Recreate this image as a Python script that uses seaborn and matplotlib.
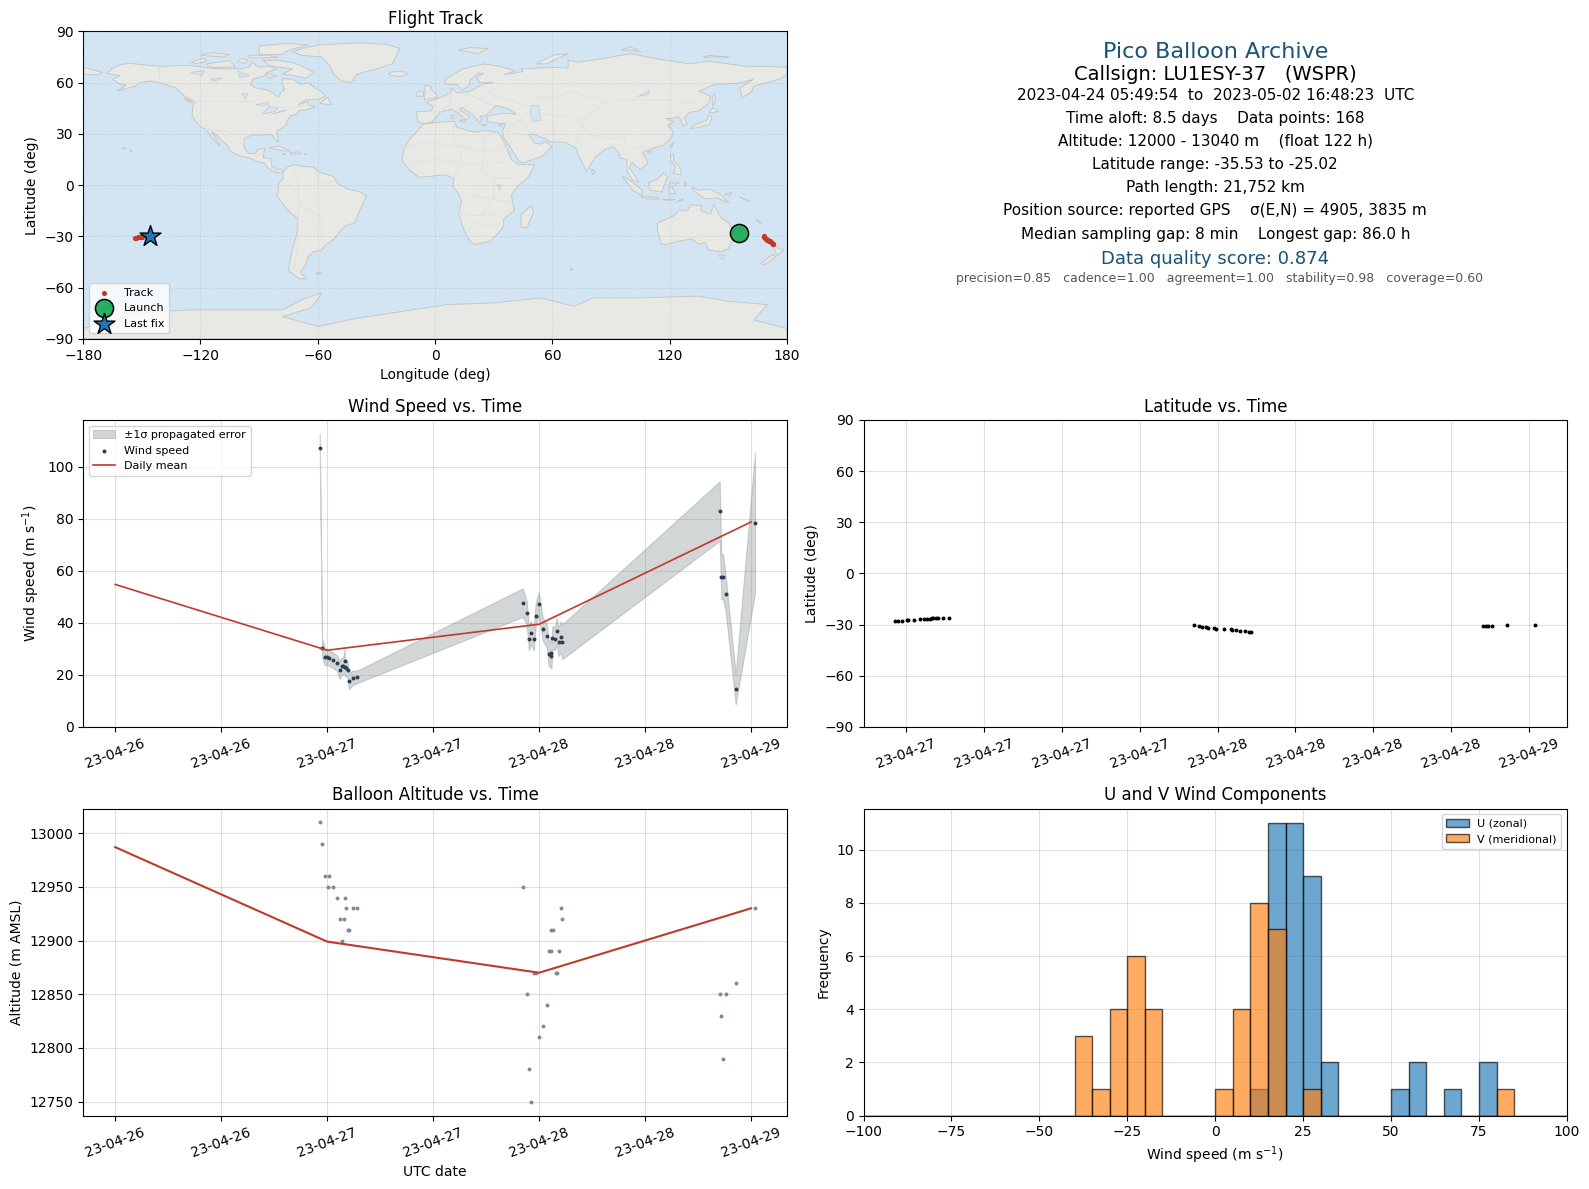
import numpy as np
import pandas as pd
import matplotlib
matplotlib.use("Agg")
import matplotlib.pyplot as plt
import matplotlib.dates as mdates
import seaborn as sns

# hours after 2023-04-27 00:00 UTC
WIND_HOURS = [-0.83, -0.57, -0.26, -0.04, 0.19, 0.64, 1.09, 1.43, 1.66, 1.81, 2.0, 2.0, 2.15, 2.34, 2.45, 2.9, 3.36,
              22.15, 22.6, 22.83, 23.06, 23.4, 23.6, 23.96, 24.4, 24.87, 25.1, 25.3, 25.4, 25.5, 25.8, 26.0, 26.2,
              26.45, 26.64, 44.45, 44.64, 44.83, 45.13, 46.26, 48.45]
WIND_SPEED = [107.4, 30.5, 26.9, 27.0, 26.6, 25.7, 24.6, 21.9, 23.4, 23.4, 25.4, 23.1, 22.7, 21.9, 17.7, 18.9, 19.2,
              47.8, 44.0, 34.0, 36.3, 34.0, 42.8, 47.4, 37.8, 35.1, 27.9, 28.6, 27.4, 34.3, 34.0, 37.0, 32.8,
              34.6, 32.8, 83.0, 57.8, 57.8, 51.2, 14.5, 78.5]
WIND_SIGMA = [5.3, 3.8, 3.3, 3.2, 3.0, 3.0, 3.0, 3.5, 3.2, 3.2, 4.6, 3.5, 3.2, 3.3, 3.2, 2.8, 2.4,
              5.5, 4.5, 4.5, 4.5, 4.5, 4.5, 4.5, 4.5, 4.5, 4.9, 4.9, 5.0, 4.5, 4.5, 5.0, 5.5,
              6.0, 6.7, 11.4, 8.7, 8.7, 7.0, 5.9, 27.0]

DAILY_DATES = ["2023-04-26", "2023-04-27", "2023-04-28", "2023-04-29"]
DAILY_WIND = [54.8, 29.5, 39.5, 78.8]
DAILY_ALT = [12987, 12899, 12870, 12930]

ALT_HOURS = [-0.83, -0.6, -0.26, 0.08, 0.19, 0.64, 1.09, 1.43, 1.66, 1.89, 2.0, 2.11, 2.34, 2.45, 2.9, 3.36,
             22.15, 22.6, 22.83, 23.06, 23.4, 23.6, 23.96, 24.4, 24.87, 25.1, 25.3, 25.4, 25.55, 25.9, 26.0,
             26.2, 26.45, 26.57, 44.45, 44.64, 44.83, 45.13, 46.26, 48.45]
ALT_M = [13010, 12990, 12960, 12950, 12960, 12950, 12940, 12920, 12900, 12920, 12940, 12930, 12910, 12910, 12930, 12930,
         12950, 12850, 12780, 12750, 12870, 12870, 12810, 12820, 12840, 12890, 12890, 12910, 12910, 12870, 12870,
         12890, 12930, 12920, 12850, 12830, 12790, 12850, 12860, 12930]

LAT_HOURS = [-0.83, -0.6, -0.26, 0.08, 0.19, 0.64, 1.09, 1.43, 1.66, 1.89, 2.0, 2.11, 2.34, 2.45, 2.9, 3.36,
             22.2, 22.6, 22.8, 23.1, 23.3, 23.7, 23.9, 24.5, 25.0, 25.1, 25.4, 25.7, 26.1, 26.4, 26.6,
             44.45, 44.64, 44.83, 45.13, 46.26, 48.45]
LAT_DEG = [-28.0, -27.9, -27.6, -27.5, -27.4, -27.1, -26.9, -26.9, -26.8, -26.4, -26.3, -26.2, -26.2, -26.2, -26.1, -26.1,
           -30.0, -30.8, -31.2, -31.4, -31.8, -32.0, -32.4, -32.5, -32.7, -32.9, -33.3, -33.5, -33.9, -34.3, -34.5,
           -31.0, -30.8, -30.6, -30.5, -30.1, -30.1]

TRACK_LON = [168.0, 168.4, 168.9, 169.3, 169.8, 170.3, 170.8, 171.3, 171.8, 172.2, 172.6, 173.0,
             -153.6, -152.8, -152.0, -151.2, -150.5, -150.0]
TRACK_LAT = [-30.0, -30.6, -31.2, -31.6, -32.0, -32.4, -32.7, -33.0, -33.4, -33.8, -34.2, -34.6,
             -31.0, -30.8, -30.6, -30.5, -30.1, -30.1]
LAUNCH_LON = [155.6]
LAUNCH_LAT = [-27.8]
LAST_FIX_LON = [-146.0]
LAST_FIX_LAT = [-29.6]

BIN_EDGES = list(range(-100, 105, 5))
U_BIN_CENTRES = [12.5, 17.5, 22.5, 27.5, 32.5, 52.5, 57.5, 67.5, 77.5]
U_COUNTS = [1, 11, 11, 9, 2, 1, 2, 1, 2]
V_BIN_CENTRES = [-37.5, -32.5, -27.5, -22.5, -17.5, 2.5, 7.5, 12.5, 17.5, 27.5, 82.5]
V_COUNTS = [3, 1, 4, 6, 4, 1, 4, 8, 7, 1, 1]

HEADER_TEXT = [
    "Pico Balloon Archive",
    "Callsign: LU1ESY-37   (WSPR)",
    "2023-04-24 05:49:54  to  2023-05-02 16:48:23  UTC",
    "Time aloft: 8.5 days    Data points: 168",
    "Altitude: 12000 - 13040 m    (float 122 h)",
    "Latitude range: -35.53 to -25.02",
    "Path length: 21,752 km",
    "Position source: reported GPS    σ(E,N) = 4905, 3835 m",
    "Median sampling gap: 8 min    Longest gap: 86.0 h",
    "Data quality score: 0.874",
    "precision=0.85   cadence=1.00   agreement=1.00   stability=0.98   coverage=0.60",
]

# rough coastlines (lon, lat)
LAND = [
    [(-168, 65.5), (-165, 68.5), (-161, 70.5), (-156, 71.3), (-148, 70.3), (-140, 69.6), (-130, 70), (-125, 70),
     (-115, 68.5), (-108, 68), (-100, 68), (-95, 69), (-94, 72), (-90, 69), (-85, 69.5), (-81, 68), (-86, 66),
     (-87, 64), (-93, 62), (-94.5, 59), (-92, 57), (-85, 55.5), (-82, 53), (-80, 51.5), (-79, 54), (-77, 56),
     (-78, 59), (-78, 62.5), (-73, 62), (-69, 59), (-65, 60), (-62, 57.5), (-58, 54.5), (-56, 52), (-60, 50),
     (-66, 50), (-70, 47), (-65, 49), (-65, 47), (-61, 46), (-66, 44), (-70, 43.5), (-71, 41.5), (-74, 40.5),
     (-76, 37), (-76, 35), (-81, 31.5), (-80.5, 28), (-80.3, 25.3), (-81.7, 26), (-83, 29), (-85, 29.7),
     (-90, 29.2), (-94, 29.5), (-97.5, 27), (-97.7, 22), (-95.5, 18.6), (-92, 18.5), (-90.5, 21), (-87, 21.4),
     (-88, 16), (-84, 15.5), (-83.5, 11), (-81, 9), (-79, 9.5), (-77.3, 8.5), (-78.5, 7.5), (-80.5, 7.3),
     (-83, 8.3), (-85.5, 10), (-87.5, 13), (-91.5, 14), (-95, 16), (-100, 17), (-105, 20), (-106, 23), (-109, 26),
     (-112.5, 30), (-114.5, 31.5), (-112, 27), (-110, 23), (-112, 25), (-115, 29), (-117, 32.5), (-120.5, 34.5),
     (-122.5, 37.5), (-124.3, 40), (-124, 46), (-123, 49), (-127, 51), (-130, 54), (-133, 57), (-137, 58.5),
     (-141, 60), (-146, 61), (-151, 60), (-153, 58), (-158, 56.5), (-163, 55), (-158, 58.5), (-162, 59.5),
     (-165, 62), (-161, 64)],
    [(-73, 78), (-68, 80), (-60, 82), (-40, 83.3), (-25, 82.5), (-18, 80), (-20, 75), (-22, 71), (-30, 68), (-40, 65),
     (-43, 60), (-48, 61), (-52, 65), (-54, 70), (-58, 75), (-68, 76)],
    [(-80, 73), (-72, 71.5), (-65, 68), (-62, 66), (-66, 62.5), (-72, 64), (-78, 65), (-73, 68), (-85, 70), (-88, 73)],
    [(-90, 76.5), (-78, 76.5), (-75, 79), (-65, 82), (-75, 83), (-90, 81.5)],
    [(-117, 71), (-105, 73), (-102, 69), (-115, 69)],
    [(-125, 72), (-118, 74.5), (-117, 72.5), (-122, 71)],
    [(-95, 74.5), (-80, 74.5), (-85, 76), (-95, 76)],
    [(-120, 76), (-108, 75), (-105, 76.5), (-115, 77.5)],
    [(-100, 74), (-96, 73.5), (-97, 71.5), (-101, 72)],
    [(-87, 65.5), (-81, 64), (-85, 62.5)],
    [(-128.5, 50.7), (-124, 49), (-125.5, 48.5)],
    [(-59, 47.8), (-53, 47), (-55, 51.5)],
    [(-85, 22), (-80, 23), (-74.5, 20), (-78, 20)],
    [(-74, 19), (-69, 19.5), (-68.5, 18.3), (-74, 18)],
    [(-78.3, 18.4), (-76.3, 18.1), (-77, 17.8)],
    [(-67, 18.5), (-65.7, 18.3), (-66.5, 18)],
    [(-77.3, 8.5), (-75, 11), (-72, 12), (-68, 11), (-62, 10.5), (-60, 8), (-52, 5), (-50, 1), (-44, -2.5), (-38, -4),
     (-35, -6.5), (-37, -11), (-39, -16), (-41, -22), (-46, -24), (-48.5, -27), (-52, -32), (-56, -35), (-58, -38),
     (-62, -39), (-65, -42), (-66, -46), (-69, -51), (-65.5, -55), (-70, -54.5), (-75, -50), (-74, -43), (-73, -37),
     (-71, -30), (-70, -20), (-76, -14), (-81, -6), (-80, -2), (-80, 1), (-77.5, 4), (-78, 7)],
    [(-6, 35.8), (3, 37), (10, 37.3), (11, 34), (15, 32.5), (20, 31), (25, 32), (32, 31), (34, 28), (37, 21), (39, 15),
     (43, 12), (51, 12), (48, 5), (42, -1), (39, -6), (40.5, -15), (35, -20), (35, -24), (32.5, -28), (28, -33),
     (20, -34.8), (18, -33), (15, -27), (12, -17), (13.5, -10), (12, -5), (9, -1), (9.5, 4), (5, 6), (-4, 5),
     (-8, 4.5), (-13, 8.5), (-17, 14.5), (-16, 21), (-13, 27), (-9.5, 31)],
    [(49.3, -12), (50.3, -16), (47, -25), (44, -24.5), (44, -17)],
    [(-9, 37), (-9.5, 43), (-2, 43.5), (-1, 46), (-4.5, 48.5), (2, 51), (8, 54), (8.5, 57), (11, 54), (18, 55), (21, 57),
     (24, 59), (30, 60), (23, 60), (21, 63), (25, 65.5), (22, 65.5), (17.5, 61), (18, 59), (14, 55.5), (11, 59), (5, 59),
     (5.5, 62), (14, 68), (25, 71), (33, 69.5), (41, 67), (35, 64.5), (45, 66.5), (44, 68), (60, 69), (68, 68.5),
     (68, 73), (73, 72), (80, 73), (100, 77), (113, 74), (130, 71), (140, 72.5), (160, 69.5), (170, 69.5), (180, 69),
     (180, 65), (177, 62.5), (170, 60), (163, 58), (162, 55), (157, 51), (156, 57), (163, 62), (155, 59.5), (143, 59),
     (135, 55), (141, 52), (140, 48), (135, 43.5), (130, 42.5), (127.5, 39.5), (129, 36), (126.5, 34.5), (126, 37.5),
     (124.5, 40), (121, 39), (118, 39), (122, 37), (119, 35), (122, 31), (121, 28), (117, 23.5), (110, 21), (106, 19),
     (109, 13), (105, 9), (103, 11), (100.5, 13.5), (99.5, 10), (103, 4), (104, 1.4), (101, 3), (98.3, 8), (98, 15),
     (94.5, 16), (94, 19), (91, 22.5), (87, 21), (82, 16.5), (80, 13), (77.5, 8), (73, 18), (72.5, 21), (67, 25),
     (58, 25.5), (56.5, 27), (50, 30), (48, 29.5), (51, 24.5), (54, 24), (56.5, 25.5), (59.8, 22.5), (55, 17), (45, 13),
     (43, 14), (39, 21), (35, 28), (34.5, 31.5), (36, 36), (30, 36.5), (27, 37), (26.5, 40), (29, 41), (35, 42),
     (41.5, 41.5), (37, 45), (31, 46.5), (28, 43), (26, 40.7), (23, 40.5), (24, 38), (22.5, 36.5), (19.5, 41),
     (13.5, 45.5), (12.5, 44), (18, 40), (16, 38), (12, 42), (8.5, 44.3), (3, 43), (0, 39), (-2, 36.8), (-5.5, 36)],
    [(-180, 69), (-170, 66), (-173, 64.5), (-180, 65)],
    [(-5.5, 50), (1.5, 51.5), (0, 54), (-2, 56), (-2, 58), (-5.5, 58.5), (-5, 54)],
    [(-10, 52), (-6, 52), (-6, 55), (-9, 54.5)],
    [(-24, 65), (-22, 64), (-18, 63.5), (-14, 65), (-16, 66.5), (-22, 66.4)],
    [(12, 79), (22, 77), (27, 80), (18, 80.5)],
    [(52, 71), (57, 71), (68, 77), (60, 76)],
    [(95, 79), (100, 79), (105, 78), (100, 81)],
    [(137, 75), (145, 75), (150, 75), (140, 76)],
    [(8.2, 41), (9.7, 41), (9.5, 39), (8.4, 39)],
    [(12.5, 38), (15.5, 38.2), (15, 36.7)],
    [(23.5, 35.5), (26.3, 35.2), (24.5, 34.9)],
    [(32.3, 35), (34.5, 35.6), (33.5, 34.6)],
    [(142, 46), (143.5, 50), (143, 54), (142, 52)],
    [(130.5, 33), (135, 33.8), (140.5, 35.5), (141.5, 40), (140, 41), (139, 38), (133, 35.5)],
    [(140, 42), (145, 43.3), (142, 45.3)],
    [(80, 9.5), (82, 7.5), (80.5, 6)],
    [(120.5, 23), (122, 25), (120.8, 22)],
    [(108.7, 19.3), (110.5, 20), (110, 18.3)],
    [(120.5, 18), (122, 18), (122, 14), (124, 12.5), (126, 8), (125.5, 6), (122, 7), (123, 11), (120.5, 14)],
    [(109, 1.5), (113, 3), (117, 7), (119, 5), (117.5, 1), (116, -4), (110, -3)],
    [(95.5, 5.5), (100, 2.5), (106, -3), (105.5, -6), (101, -3)],
    [(105.5, -6.5), (114.5, -7.5), (114, -8.7), (106, -7.5)],
    [(116, -8.4), (123, -8.3), (119, -9)],
    [(123.5, -10), (127, -8.4), (124.5, -9.4)],
    [(127.5, 2), (128.5, 1), (128, -1)],
    [(119.5, -5), (120, 1), (125, 1.5), (121, -1), (123, -5)],
    [(131, -1), (135, -3), (141, -2.5), (146, -5.5), (150.5, -10.5), (144, -7.5), (138, -8), (133, -4)],
    [(148, -5.5), (152, -4), (151, -6)],
    [(156, -7), (161, -9.5), (159, -9)],
    [(114, -22), (113.5, -26), (115.5, -34), (118, -35), (124, -33), (131, -31.5), (135, -34.5), (138, -33.5), (140, -38),
     (146, -39), (150, -37.5), (153.5, -28), (150, -22), (146, -19), (142.5, -11), (141, -17), (136, -15), (136.5, -12),
     (131, -11.5), (129, -15), (125, -14.5), (122, -18)],
    [(145, -41), (148, -41), (147, -43.5)],
    [(172.8, -34.5), (175.5, -37), (178.5, -37.7), (175, -41.5), (174, -39)],
    [(172.5, -40.7), (174, -41.8), (171, -45), (168, -46.7), (166.5, -46), (171, -42)],
    [(164, -20), (167, -22), (166, -22.3)],
    [(-156, 20.5), (-155, 19.8), (-155.6, 19)],
    [(-160, 22), (-158, 21.3), (-159, 21)],
    [(69, -49), (70.5, -49.3), (69.5, -50)],
    [(-61, -51.5), (-58, -51.5), (-59.5, -52.3)],
    [(-180, -84), (-165, -80), (-155, -76), (-140, -74), (-124, -73), (-100, -73), (-78, -73), (-68, -67), (-58, -63),
     (-60, -67), (-64, -72), (-78, -77), (-60, -82.7), (-40, -78), (-23, -75), (6, -70), (30, -69), (54, -66),
     (71, -71), (81, -66), (105, -66), (134, -65), (150, -68), (170, -70), (163, -79), (180, -84), (180, -90), (-180, -90)],
]
LAKES = [
    [(-92, 47), (-85, 48.5), (-85, 46.7)],
    [(-88, 42), (-85, 46), (-80, 45.5), (-82, 43), (-86, 42)],
    [(-83, 41.7), (-76, 44), (-79, 43)],
    [(49, 46.5), (53, 46.5), (54, 38), (50, 37), (49, 41)],
    [(-101, 67), (-95, 64), (-100, 63)],
    [(-125, 66), (-118, 67), (-119, 64)],
    [(-115, 62), (-109, 62.8), (-113, 60.8)],
    [(-99, 53.5), (-96, 53.5), (-97, 50.5)],
    [(104, 52), (110, 55.5), (109, 53)],
    [(31.7, 0), (34, 0), (33, -3)],
]
BORDERS = [
    [(-123, 49), (-95, 49), (-83, 46), (-75, 45), (-67, 47)],
    [(-141, 60), (-141, 69.6)],
    [(-117, 32.5), (-106, 31.5), (-97.5, 26)],
    [(-92, 14.5), (-91, 17.5), (-88, 18)],
    [(-72, 12), (-70, 1), (-70, -10), (-58, -20), (-58, -33)],
    [(-60, 8), (-60, 1), (-52, 2)],
    [(-70, -10), (-70, -20), (-70, -33), (-72, -50)],
    [(-80, -3), (-75, 0), (-70, -4)],
    [(-17, 21), (-5, 25), (12, 23), (25, 20), (37, 22)],
    [(25, 32), (25, 20), (24, 9), (30, 4), (42, 4)],
    [(10, 37), (9, 30), (12, 23), (14, 13), (9, 4)],
    [(-13, 12), (0, 15), (14, 13), (24, 12), (36, 14)],
    [(12, -5), (30, -8), (40, -11)],
    [(12, -17), (24, -18), (35, -16)],
    [(16, -28), (20, -22), (32, -24)],
    [(30, 4), (30, -8), (24, -18)],
    [(-2, 43), (3, 43), (8, 48), (8, 54)],
    [(14, 54), (24, 50), (30, 46), (28, 42)],
    [(24, 59), (30, 52), (40, 49), (48, 46)],
    [(50, 51), (60, 51), (70, 55), (87, 49), (98, 50), (117, 50), (135, 48)],
    [(53, 42), (60, 41), (70, 40), (75, 38), (80, 42), (87, 49)],
    [(44, 39), (47, 34), (49, 30)],
    [(61, 36), (61, 30), (62, 25)],
    [(75, 36), (78, 30), (88, 27), (97, 28), (98, 22), (106, 22)],
    [(72, 25), (75, 32), (75, 36)],
    [(36, 32), (42, 37), (44, 39)],
    [(36, 32), (47, 29)],
]


def to_time(hours):
    return pd.Timestamp("2023-04-27") + pd.to_timedelta(hours, unit="h")


def add_axes_px(fig, left, right, top, bottom):
    w, h = fig.get_size_inches() * fig.dpi
    return fig.add_axes([left / w, 1 - bottom / h, (right - left) / w, (bottom - top) / h])


def style_grid(ax):
    ax.grid(True, color="#b0b0b0", alpha=0.4, linewidth=0.8)
    ax.set_axisbelow(True)


def date_axis(ax, hours):
    ax.xaxis.set_major_locator(mdates.HourLocator(byhour=range(0, 24, hours)))
    ax.xaxis.set_major_formatter(mdates.DateFormatter("%y-%m-%d"))
    ax.tick_params(axis="x", labelrotation=20)
    ax.margins(x=0.05)


def plot_map(ax):
    ax.set_facecolor("#d3e5f2")
    for poly in LAND:
        xs, ys = zip(*poly)
        ax.fill(xs, ys, facecolor="#e8e8e4", edgecolor="#c3c8ca", linewidth=0.7, zorder=1)
    for poly in LAKES:
        xs, ys = zip(*poly)
        ax.fill(xs, ys, facecolor="#d3e5f2", edgecolor="#c3c8ca", linewidth=0.5, zorder=1.1)
    for line in BORDERS:
        xs, ys = zip(*line)
        ax.plot(xs, ys, color="#dfe0dc", linewidth=0.6, zorder=1.2)
    ax.grid(True, color="#808080", alpha=0.3, linewidth=0.6, linestyle=":", zorder=1.5)
    ax.set_axisbelow(False)
    sns.scatterplot(x=TRACK_LON, y=TRACK_LAT, ax=ax, color="#c0392b", s=14, linewidth=0, label="Track", zorder=3)
    sns.scatterplot(x=LAUNCH_LON, y=LAUNCH_LAT, ax=ax, color="#27ae60", s=170, marker="o",
                    edgecolor="black", linewidth=1.1, label="Launch", zorder=4)
    sns.scatterplot(x=LAST_FIX_LON, y=LAST_FIX_LAT, ax=ax, color="#1f77b4", s=250, marker="*",
                    edgecolor="black", linewidth=1.0, label="Last fix", zorder=5)
    ax.set_xlim(-180, 180)
    ax.set_ylim(-90, 90)
    ax.set_xticks(range(-180, 181, 60))
    ax.set_yticks(range(-90, 91, 30))
    ax.set_xlabel("Longitude (deg)")
    ax.set_ylabel("Latitude (deg)")
    ax.set_title("Flight Track", fontsize=12, pad=5)
    ax.legend(loc="lower left", fontsize=8)


def plot_wind(ax):
    times = to_time(WIND_HOURS)
    speed = np.array(WIND_SPEED)
    sigma = np.array(WIND_SIGMA)
    daily = pd.to_datetime(DAILY_DATES)
    style_grid(ax)
    ax.fill_between(times, speed - sigma, speed + sigma, color="#7f8c8d", alpha=0.35, linewidth=0.8,
                    label="±1σ propagated error")
    sns.scatterplot(x=times, y=speed, ax=ax, color="#2c3e50", s=8, linewidth=0, label="Wind speed", zorder=3)
    sns.lineplot(x=daily, y=DAILY_WIND, ax=ax, color="#c0392b", linewidth=1.2, label="Daily mean", zorder=4)
    date_axis(ax, 12)
    ax.set_ylim(0, 118)
    ax.set_xlabel("")
    ax.set_ylabel("Wind speed (m s$^{-1}$)")
    ax.set_title("Wind Speed vs. Time", fontsize=12)
    ax.legend(loc="upper left", fontsize=8)


def plot_latitude(ax):
    style_grid(ax)
    sns.scatterplot(x=to_time(LAT_HOURS), y=LAT_DEG, ax=ax, color="black", s=8, linewidth=0)
    date_axis(ax, 6)
    ax.set_xlim(to_time([-3.25, 50.9]))
    ax.set_ylim(-90, 90)
    ax.set_yticks(range(-90, 91, 30))
    ax.set_xlabel("")
    ax.set_ylabel("Latitude (deg)")
    ax.set_title("Latitude vs. Time", fontsize=12)


def plot_altitude(ax):
    style_grid(ax)
    sns.scatterplot(x=to_time(ALT_HOURS), y=ALT_M, ax=ax, color="#7f8c8d", s=8, linewidth=0)
    sns.lineplot(x=pd.to_datetime(DAILY_DATES), y=DAILY_ALT, ax=ax, color="#c0392b", linewidth=1.5)
    date_axis(ax, 12)
    ax.set_xlabel("UTC date")
    ax.set_ylabel("Altitude (m AMSL)")
    ax.set_title("Balloon Altitude vs. Time", fontsize=12)


def plot_components(ax):
    style_grid(ax)
    edge = (0, 0, 0, 0.65)
    sns.histplot(x=U_BIN_CENTRES, weights=U_COUNTS, bins=BIN_EDGES, ax=ax, color="#1f77b4", alpha=0.65,
                 edgecolor=edge, linewidth=1, label="U (zonal)")
    sns.histplot(x=V_BIN_CENTRES, weights=V_COUNTS, bins=BIN_EDGES, ax=ax, color="#ff7f0e", alpha=0.65,
                 edgecolor=edge, linewidth=1, label="V (meridional)")
    ax.set_xlim(-100, 100)
    ax.set_ylim(0, 11.55)
    ax.set_xlabel("Wind speed (m s$^{-1}$)")
    ax.set_ylabel("Frequency")
    ax.set_title("U and V Wind Components", fontsize=12)
    ax.legend(loc="upper right", fontsize=8)


def draw_header(fig):
    h = fig.get_size_inches()[1] * fig.dpi
    sizes = [16, 14, 11, 11, 11, 11, 11, 11, 11, 13, 9]
    colours = ["#1a5276", "black"] + ["black"] * 7 + ["#1a5276", "#555555"]
    rows = [51, 73, 94, 117, 139, 162, 185, 208, 231, 255, 275]
    for text, size, colour, y in zip(HEADER_TEXT, sizes, colours, rows):
        x = 0.7673 if size == 9 else 0.7648
        fig.text(x, 1 - y * 1.0143 / h, text, fontsize=size, color=colour, ha="center", va="center")


def main():
    fig = plt.figure(figsize=(15.89, 11.89), dpi=100)
    plot_map(add_axes_px(fig, 83.2, 787, 31.4, 338.8))
    plot_wind(add_axes_px(fig, 83.2, 787, 420, 727))
    plot_latitude(add_axes_px(fig, 863.5, 1567, 420, 727))
    plot_altitude(add_axes_px(fig, 83.2, 787, 808.5, 1115.5))
    plot_components(add_axes_px(fig, 863.5, 1567, 808.5, 1115.5))
    draw_header(fig)
    fig.savefig("out.png", dpi=100)
    plt.close(fig)


if __name__ == "__main__":
    main()
